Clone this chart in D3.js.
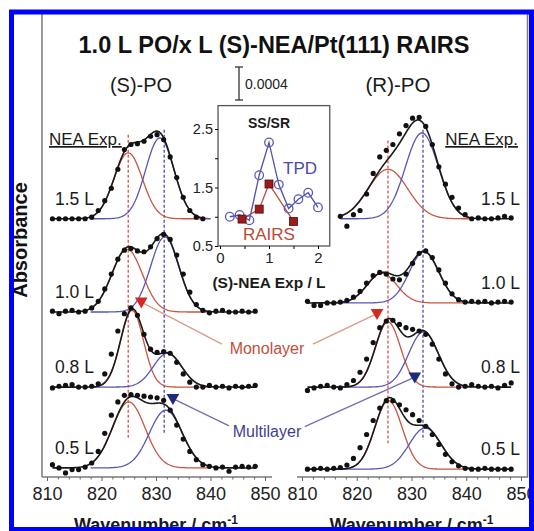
<!DOCTYPE html>
<html>
<head>
<meta charset="utf-8">
<script src="https://cdn.jsdelivr.net/npm/d3@7"></script>
<style>
body { margin: 0; background: #fff; }
text { font-family: "Liberation Sans", Arial, sans-serif; }
</style>
</head>
<body>
<div id="chart"></div>
<script>
// wavenumber grid of the measured points (cm-1)
var wavenumbers = [811, 812.2, 813.4, 814.6, 815.8, 817, 818.2, 819.4, 820.6, 821.8, 823, 824.2, 825.4, 826.6, 827.8, 829,
                   830.2, 831.4, 832.6, 833.8, 835, 836.2, 837.4, 838.6, 839.8, 841, 842.2, 843.4, 844.6, 845.8, 847, 848.2];
var exposures = ["1.5 L", "1.0 L", "0.8 L", "0.5 L"];
var xTicks = [810, 820, 830, 840, 850];

// (S)-PO traces, absorbance in units of 1e-4 above each baseline
var s15 = [0, 0, 0, 0, 0, 0, 0.2, 1.0, 2.2, 3.7, 6.0, 8.4, 9.0, 9.1, 9.4, 10.0, 10.2, 9.6, 7.5, 5.0, 2.6, 1.0, 0.2, 0];
var s10 = [0.1, -0.2, 0.1, 0.2, 0, 0.1, 0.5, 1.3, 2.8, 4.6, 6.4, 7.5, 7.7, 7.4, 7.3, 7.9, 8.9, 9.4, 8.8, 6.9, 4.6, 2.4, 0.9, 0.2, -0.1, 0.1, 0.2, 0, 0, 0.1, 0, 0.1];
var s08 = [-0.1, 0.1, 0.2, 0.3, 0, 0, 0.1, 0.4, 1.6, 4.0, 6.8, 8.9, 9.6, 8.7, 6.4, 4.6, 4.2, 4.3, 4.1, 3.0, 1.6, 0.6, 0, 0, 0.2, 0, 0.1, -0.1, 0.1, 0, 0.1, 0.2];
var s05 = [0.4, 0, -0.6, -0.2, -0.2, 0.1, 0.6, 2.0, 4.2, 6.4, 8.0, 8.8, 8.9, 8.8, 8.7, 8.6, 8.5, 8.2, 7.0, 5.2, 3.5, 2.0, 1.0, 0.4, 0.2, 0, 0.1, -0.4, 0.1, 0.2, 0.1, 0.2];
// (R)-PO traces
var r15 = [0.3, -0.9, 0.5, 1.0, 3.0, 5.5, 7.5, 8.3, 9.0, 10.3, 11.3, 12.2, 12.3, 11.2, 9.0, 6.3, 4.2, 2.6, 1.3, 0.5, 0, 0.1, 0, 0, 0.1, 0.3, 0.1];
var r10 = [0.2, -0.3, -0.3, 0, 0, 0.1, 0.3, 0.7, 1.4, 2.4, 3.3, 3.7, 3.5, 2.9, 2.8, 3.5, 4.8, 6.0, 6.3, 5.5, 4.0, 2.4, 1.1, 0.4, 0.1, 0.2, 0.1, 0.2, 0, 0.1, 0.2, 0.1];
var r08 = [-0.4, -0.1, 0.1, 0.2, 0, -0.1, 0.3, 0.8, 1.8, 3.4, 5.4, 7.2, 8.0, 8.1, 7.6, 7.2, 7.0, 6.8, 6.4, 5.2, 3.4, 1.6, 0.4, 0, 0.1, 0.3, 0.1, 0, 0.1, -0.1, 0.2, 0.5];
var r05 = [0, 0, 0.1, 0, 0.1, 0.2, 0.5, 1.3, 2.6, 4.2, 5.9, 7.4, 8.3, 8.3, 7.8, 7.2, 6.6, 5.9, 5.2, 4.2, 3.0, 1.8, 0.9, 0.4, 0.1, 0, 0, 0.1, 0, 0, 0, 0];
var firstS = [0, 0, 0, 0];   // index into wavenumbers of first point
var firstR = [5, 0, 0, 0];

// baseline offsets of the stacked traces (1e-4 abs)
var offsetS = [31.3, 20.0, 10.9, 1.1];
var offsetR = [31.3, 21.1, 10.9, 0.95];

// gaussian fit components [centre, height, sigma]
var monoS = [[824.9, 8.0, 2.6], [824.7, 7.6, 2.8], [825.6, 9.3, 2.1], [825.0, 8.0, 3.0]];
var multiS = [[830.7, 9.8, 2.6], [831.6, 9.1, 2.6], [832.1, 4.1, 2.6], [831.8, 7.0, 3.0]];
var monoR = [[825.7, 6.0, 3.6], [824.6, 3.6, 2.7], [825.7, 7.9, 2.3], [825.8, 8.3, 2.5]];
var multiR = [[831.9, 10.4, 3.0], [832.3, 6.2, 2.7], [832.2, 6.7, 2.7], [832.5, 5.0, 2.9]];

// dashed guide lines [wavenumber, top, bottom]
var dashS = [[824.9, 41.5, 4.7], [831.5, 42.1, 5.2]];
var dashR = [[825.7, 40.8, 4.1], [832.1, 42.1, 4.5]];

// inset: SS/SR ratio vs NEA exposure
var tpdX = [0.2, 0.4, 0.6, 0.8, 1.0, 1.2, 1.4, 1.6, 1.8, 2.0];
var tpdY = [1.0, 1.03, 0.94, 1.71, 2.27, 1.55, 1.14, 1.30, 1.41, 1.16];
var rairsX = [0.45, 0.8, 1.0, 1.5];
var rairsY = [0.96, 1.13, 1.56, 0.92];

var scaleBar = 4; // 0.0004

var red = "#c8553f", blue = "#5656b8";
var W = 534, H = 531;

var svg = d3.select("#chart").append("svg").attr("width", W).attr("height", H);

var xS = d3.scaleLinear().domain([810, 850]).range([47, 265]);
var xR = d3.scaleLinear().domain([810, 850]).range([302, 521]);
var y = d3.scaleLinear().domain([0, 40]).range([477, 147]);

function gauss(p, x) { return p[1] * Math.exp(-(x - p[0]) * (x - p[0]) / (2 * p[2] * p[2])); }

var panels = [
  { x: xS, dots: [s15, s10, s08, s05], first: firstS, off: offsetS, mono: monoS, multi: multiS, dash: dashS, comp: [818, 840], axis: [42, 272] },
  { x: xR, dots: [r15, r10, r08, r05], first: firstR, off: offsetR, mono: monoR, multi: multiR, dash: dashR, comp: [816, 841], axis: [297, 528] }
];

// outer frame lines
svg.append("line").attr("x1", 42).attr("x2", 42).attr("y1", 10).attr("y2", 477).attr("stroke", "#7a7a7a").attr("stroke-width", 1.5);
svg.append("line").attr("x1", 527.5).attr("x2", 527.5).attr("y1", 10).attr("y2", 477).attr("stroke", "#7a7a7a").attr("stroke-width", 1.5);

panels.forEach(function(P, pi) {
  var g = svg.append("g");

  // dashed guides
  P.dash.forEach(function(d, i) {
    g.append("line")
      .attr("x1", P.x(d[0])).attr("x2", P.x(d[0]))
      .attr("y1", y(d[1])).attr("y2", y(d[2]))
      .attr("stroke", i == 0 ? "#d0453a" : "#3a3aa8")
      .attr("stroke-width", 1.2)
      .attr("stroke-dasharray", "3,2");
  });

  P.dots.forEach(function(vals, t) {
    var xs = wavenumbers.slice(P.first[t], P.first[t] + vals.length);
    var off = P.off[t];
    var lo = Math.max(P.comp[0], xs[0]), hi = P.comp[1];
    var grid = d3.range(lo, hi + 0.001, 0.2);
    var line = d3.line().x(function(d) { return P.x(d[0]); }).y(function(d) { return y(d[1]); });

    // components
    g.append("path").datum(grid.map(function(x) { return [x, off + gauss(P.mono[t], x)]; }))
      .attr("d", line).attr("fill", "none").attr("stroke", red).attr("stroke-width", 1.3);
    g.append("path").datum(grid.map(function(x) { return [x, off + gauss(P.multi[t], x)]; }))
      .attr("d", line).attr("fill", "none").attr("stroke", blue).attr("stroke-width", 1.3);

    // total fit
    var full = d3.range(xs[0], xs[xs.length - 1] + 0.001, 0.2);
    g.append("path").datum(full.map(function(x) { return [x, off + gauss(P.mono[t], x) + gauss(P.multi[t], x)]; }))
      .attr("d", line).attr("fill", "none").attr("stroke", "#1a1a1a").attr("stroke-width", 1.6);

    // data points
    g.selectAll(null).data(vals).enter().append("circle")
      .attr("cx", function(d, i) { return P.x(xs[i]); })
      .attr("cy", function(d) { return y(off + d); })
      .attr("r", 2.6)
      .attr("fill", "#111");

    // exposure label
    g.append("text")
      .attr("x", pi == 0 ? 55 : 520)
      .attr("y", y(off) - 14)
      .attr("text-anchor", pi == 0 ? "start" : "end")
      .style("font-size", "17.5px")
      .attr("fill", "#1a1a1a")
      .text(exposures[t]);
  });

  // axis
  g.append("line").attr("x1", P.axis[0]).attr("x2", P.axis[1]).attr("y1", 477).attr("y2", 477)
    .attr("stroke", "#7a7a7a").attr("stroke-width", 1.5);
  var ax = g.append("g").attr("transform", "translate(0,477)")
    .call(d3.axisBottom(P.x).tickValues(xTicks).tickSize(4).tickPadding(6).tickFormat(d3.format("d")));
  ax.select(".domain").remove();
  ax.selectAll("line").attr("stroke", "#666");
  ax.selectAll("text").style("font-size", "18px").attr("fill", "#222").attr("font-family", "Liberation Sans, Arial, sans-serif");
  var minor = g.append("g").attr("transform", "translate(0,477)")
    .call(d3.axisBottom(P.x).tickValues(d3.range(812, 850, 2).filter(function(v) { return v % 10 != 0; })).tickSize(2.5).tickFormat(""));
  minor.select(".domain").remove();
  minor.selectAll("line").attr("stroke", "#666");

  // x label
  var xl = g.append("text")
    .attr("x", (P.x(810) + P.x(850)) / 2)
    .attr("y", 531)
    .attr("text-anchor", "middle")
    .style("font-size", "18px")
    .style("font-weight", "bold")
    .attr("fill", "#1a1a1a");
  xl.append("tspan").text("Wavenumber / cm");
  xl.append("tspan").attr("dy", -7).style("font-size", "12px").text("-1");

  // NEA Exp. header
  g.append("text")
    .attr("x", pi == 0 ? 49 : 518)
    .attr("y", 145)
    .attr("text-anchor", pi == 0 ? "start" : "end")
    .style("font-size", "17px")
    .style("text-decoration", "underline")
    .attr("fill", "#1a1a1a")
    .text("NEA Exp.");
});

// titles
svg.append("text").attr("x", 274).attr("y", 53).attr("text-anchor", "middle")
  .style("font-size", "23.5px").style("font-weight", "bold").attr("fill", "#111")
  .text("1.0 L PO/x L (S)-NEA/Pt(111) RAIRS");
svg.append("text").attr("x", 141).attr("y", 92).attr("text-anchor", "middle")
  .style("font-size", "20px").attr("fill", "#1a1a1a").text("(S)-PO");
svg.append("text").attr("x", 398).attr("y", 92).attr("text-anchor", "middle")
  .style("font-size", "20.5px").attr("fill", "#1a1a1a").text("(R)-PO");

// absorbance label
svg.append("text").attr("transform", "translate(27,240) rotate(-90)").attr("text-anchor", "middle")
  .style("font-size", "20px").style("font-weight", "bold").attr("fill", "#111").text("Absorbance");

// scale bar
var barY = d3.scaleLinear().domain([0, scaleBar]).range([100, 100 - (y(0) - y(scaleBar))]);
var bar = svg.append("g").attr("stroke", "#333").attr("stroke-width", 1.3);
bar.append("line").attr("x1", 239).attr("x2", 239).attr("y1", barY(0)).attr("y2", barY(scaleBar));
bar.append("line").attr("x1", 235).attr("x2", 243).attr("y1", barY(0)).attr("y2", barY(0));
bar.append("line").attr("x1", 235).attr("x2", 243).attr("y1", barY(scaleBar)).attr("y2", barY(scaleBar));
svg.append("text").attr("x", 245).attr("y", 89).style("font-size", "14px").attr("fill", "#222").text("0.0004");

// annotation arrows [panel, tip wn, tip y, tail wn, tail y]
var annot = [
  { text: "Monolayer", color: "#c0503c", line: "#dc9a88", tri: "#d42a1e", arrows: [[xS, 827.3, 21.2, 842.1, 16.1], [xR, 823.7, 19.8, 812.0, 16.1]], ty: 16.1 },
  { text: "Multilayer", color: "#3e3e8e", line: "#7070b0", tri: "#1f2b7a", arrows: [[xS, 833.1, 9.5, 843.4, 6.2], [xR, 830.6, 12.1, 810.5, 6.1]], ty: 6.1 }
];
annot.forEach(function(a) {
  a.arrows.forEach(function(r) {
    svg.append("line").attr("x1", r[0](r[3])).attr("y1", y(r[4])).attr("x2", r[0](r[1])).attr("y2", y(r[2]))
      .attr("stroke", a.line).attr("stroke-width", 1.3);
    svg.append("path").attr("d", d3.symbol().type(d3.symbolTriangle).size(70)())
      .attr("transform", "translate(" + r[0](r[1]) + "," + (y(r[2]) - 1) + ") rotate(180)")
      .attr("fill", a.tri);
  });
  svg.append("text").attr("x", 267).attr("y", y(a.ty) + 10).attr("text-anchor", "middle")
    .style("font-size", "16px").attr("fill", a.color).text(a.text);
});

// inset
var ix = d3.scaleLinear().domain([0, 2]).range([220, 318]);
var iy = d3.scaleLinear().domain([0.5, 2.5]).range([246, 129]);
var inset = svg.append("g");
inset.append("rect").attr("x", ix(-0.04)).attr("y", iy(2.9)).attr("width", ix(2.24) - ix(-0.04)).attr("height", iy(0.5) - iy(2.9))
  .attr("fill", "#fff").attr("stroke", "#555").attr("stroke-width", 1.3);
var iyAx = inset.append("g").attr("transform", "translate(" + ix(-0.04) + ",0)")
  .call(d3.axisLeft(iy).tickValues([0.5, 1.0, 1.5, 2.0, 2.5]).tickSize(3).tickPadding(2)
    .tickFormat(function(d) { return d % 1 == 0.5 ? d3.format(".1f")(d) : ""; }));
iyAx.select(".domain").remove();
iyAx.selectAll("text").style("font-size", "14.5px").attr("fill", "#222").attr("font-family", "Liberation Sans, Arial, sans-serif");
var ixAx = inset.append("g").attr("transform", "translate(0," + iy(0.5) + ")")
  .call(d3.axisBottom(ix).tickValues([0, 0.5, 1, 1.5, 2]).tickSize(3).tickPadding(3)
    .tickFormat(function(d) { return d % 1 == 0 ? d : ""; }));
ixAx.select(".domain").remove();
ixAx.selectAll("text").style("font-size", "15px").attr("fill", "#222").attr("font-family", "Liberation Sans, Arial, sans-serif");

inset.append("text").attr("x", 269).attr("y", 288).attr("text-anchor", "middle")
  .style("font-size", "15.5px").style("font-weight", "bold").attr("fill", "#1a1a1a").text("(S)-NEA Exp / L");
inset.append("text").attr("x", 269).attr("y", 128).attr("text-anchor", "middle")
  .style("font-size", "14px").style("font-weight", "bold").attr("fill", "#1a1a1a").text("SS/SR");
inset.append("text").attr("x", 283).attr("y", 174)
  .style("font-size", "17px").attr("fill", "#4a4aa8").text("TPD");
inset.append("text").attr("x", 243).attr("y", 240)
  .style("font-size", "17px").attr("fill", "#b84a38").text("RAIRS");

var ilTpd = d3.line().x(function(d, i) { return ix(tpdX[i]); }).y(function(d) { return iy(d); });
inset.append("path").datum(tpdY).attr("d", ilTpd).attr("fill", "none").attr("stroke", "#5050b4").attr("stroke-width", 1.3);
var ilR = d3.line().x(function(d, i) { return ix(rairsX[i]); }).y(function(d) { return iy(d); });
inset.append("path").datum(rairsY).attr("d", ilR).attr("fill", "none").attr("stroke", "#b8503c").attr("stroke-width", 1.3);
inset.selectAll(null).data(tpdY).enter().append("circle")
  .attr("cx", function(d, i) { return ix(tpdX[i]); }).attr("cy", function(d) { return iy(d); })
  .attr("r", 4.3).attr("fill", "none").attr("stroke", "#5a5abc").attr("stroke-width", 1.3);
inset.selectAll(null).data(rairsY).enter().append("rect")
  .attr("x", function(d, i) { return ix(rairsX[i]) - 4; }).attr("y", function(d) { return iy(d) - 4; })
  .attr("width", 8).attr("height", 8).attr("fill", "#9a1c1c").attr("stroke", "#5a0a0a").attr("stroke-width", 0.8);

// blue outer frame
svg.append("rect").attr("x", 11.5).attr("y", 12).attr("width", 520).attr("height", 517.5)
  .attr("fill", "none").attr("stroke", "#0000ff").attr("stroke-width", 5);
</script>
</body>
</html>
